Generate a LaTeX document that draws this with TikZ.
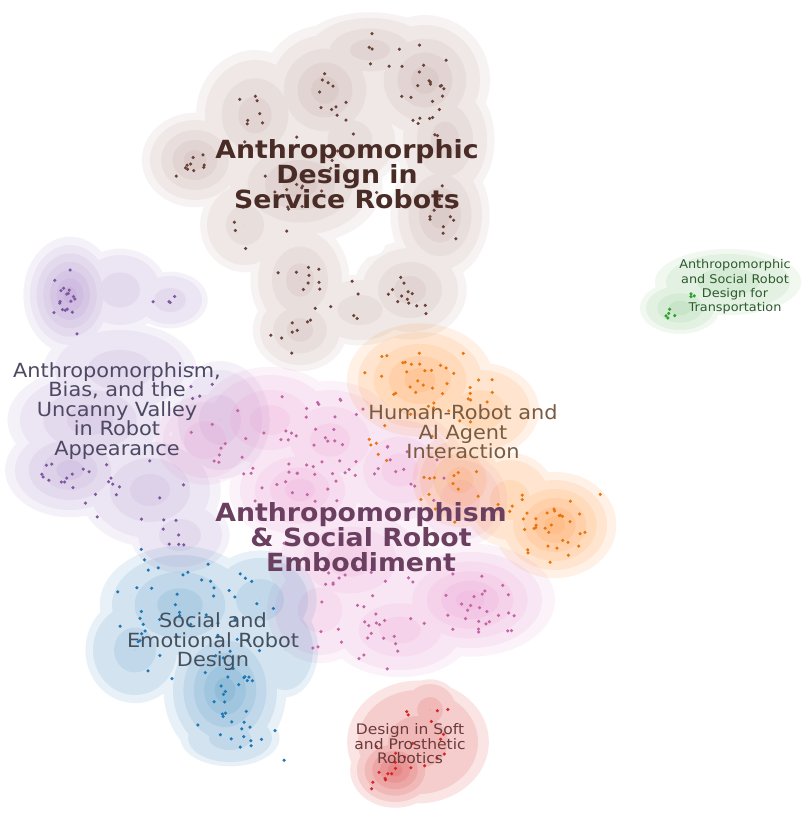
\documentclass[tikz,border=0pt]{standalone}
\usepackage{fontspec}
\newfontfamily\labfont[FakeStretch=1.07]{DejaVu Sans}
\definecolor{cbrown}{HTML}{8C564B}
\definecolor{cpurple}{HTML}{9467BD}
\definecolor{cpink}{HTML}{E377C2}
\definecolor{corange}{HTML}{FF7F0E}
\definecolor{cblue}{HTML}{1F77B4}
\definecolor{cred}{HTML}{D62728}
\definecolor{cgreen}{HTML}{2CA02C}
\definecolor{lbrown}{HTML}{4A2C26}
\definecolor{lplum}{HTML}{6A3F5F}
\definecolor{lpurple}{HTML}{4D4963}
\definecolor{lorange}{HTML}{7A5B40}
\definecolor{lblue}{HTML}{44505F}
\definecolor{lred}{HTML}{6B3A3A}
\definecolor{lgreen}{HTML}{2E5A2E}
% density blob: #1 colour, #2 opacity per level, #3 kernels x/y/rx/ry/weight
\newcommand\kde[3]{%
  \foreach \k in {0,...,6}{%
    \fill[#1, fill opacity=#2] \foreach \x/\y/\a/\b/\w in {#3}{
      (\x,\y) ellipse [x radius={max(0.3,\a*min(1.18,(\w-\k+1)/\w))*1pt}, y radius={max(0.3,\b*min(1.18,(\w-\k+1)/\w))*1pt}]
    };
  }}
% scatter: #1 colour, #2 cx, #3 cy, #4 sx, #5 sy, #6 n
\newcommand\scat[6]{%
  \foreach \i in {1,...,#6}{%
    \pgfmathsetmacro\px{#2+#4*(rand+rand+rand)/1.5}%
    \pgfmathsetmacro\py{#3+#5*(rand+rand+rand)/1.5}%
    \fill[#1] (\px,\py) circle[radius=1.75pt];
  }}
\tikzset{
  lab/.style={align=center, inner sep=0pt, font=\labfont\fontsize{19.5}{19.5}\selectfont},
  biglab/.style={align=center, inner sep=0pt, font=\labfont\bfseries\fontsize{25}{25}\selectfont},
}
\begin{document}
\begin{tikzpicture}[x=1pt,y=-1pt]
\useasboundingbox (0,0) rectangle (804,818);
\fill[white] (0,0) rectangle (804,818);
\pgfmathsetseed{7}
% ---------- densities ----------
\kde{cbrown}{0.068}{195/160/45/40/4, 255/115/50/55/3, 325/90/55/55/4, 370/50/60/32/3, 425/80/55/55/4,
  445/140/42/55/3, 300/185/70/50/4, 350/140/45/40/2, 440/215/42/55/4, 245/225/38/40/2, 300/280/42/50/3,
  300/330/40/35/3, 410/290/48/42/3, 360/310/45/30/2}
\fill[white] (365,245) ellipse[x radius=20pt, y radius=12pt];
\kde{cpurple}{0.085}{70/295/40/50/6, 120/290/40/35/2, 170/300/32/24/2, 120/370/65/40/2, 90/420/70/45/3,
  70/470/55/40/4, 150/490/60/48/3, 180/535/42/32/2, 220/420/42/50/2}
\kde{cpink}{0.09}{205/440/42/38/2, 270/420/60/45/3, 330/440/60/50/3, 300/490/60/45/4, 400/470/55/50/3,
  460/500/40/40/2, 350/560/70/50/3, 470/600/72/48/5, 400/630/62/40/3, 320/610/45/45/2}
\kde{corange}{0.1}{420/380/62/48/4, 480/410/50/40/2, 460/480/40/40/3, 555/525/52/45/5, 510/500/40/40/2}
\kde{cblue}{0.1}{180/605/68/50/3, 135/650/42/45/2, 225/690/52/62/5, 260/600/48/42/2, 230/738/42/24/2, 285/650/28/40/1}
\kde{cred}{0.12}{418/742/60/52/2, 395/770/38/32/5, 430/710/26/26/2}
\kde{cgreen}{0.07}{728/282/62/28/2, 680/308/34/22/3}
% ---------- points ----------
\foreach \cx/\cy/\sx/\sy/\n in {190/160/15/15/10, 260/115/15/20/8, 330/95/12/18/10, 380/50/25/15/8,
  430/75/20/20/14, 420/130/20/25/8, 300/190/35/25/14, 440/215/15/20/12, 300/285/18/20/10,
  295/330/20/15/8, 410/290/15/15/12, 355/300/25/20/6, 240/220/20/20/4, 350/150/40/40/8}
  {\scat{cbrown!75!black}{\cx}{\cy}{\sx}{\sy}{\n}}
\foreach \cx/\cy/\sx/\sy/\n in {70/300/12/25/18, 170/300/15/8/4, 200/385/20/15/5, 60/470/25/15/12,
  130/490/40/25/14, 170/530/20/20/6}
  {\scat{cpurple!85!black}{\cx}{\cy}{\sx}{\sy}{\n}}
\foreach \cx/\cy/\sx/\sy/\n in {240/450/35/20/12, 300/480/40/30/25, 340/420/30/25/10, 370/460/25/20/8,
  420/480/30/30/8, 350/580/50/30/20, 480/605/40/25/25, 400/630/40/25/15, 330/640/30/20/8, 280/420/50/25/10}
  {\scat{cpink!85!black}{\cx}{\cy}{\sx}{\sy}{\n}}
\foreach \cx/\cy/\sx/\sy/\n in {420/375/40/25/30, 480/400/30/20/10, 455/480/25/25/14, 555/525/30/25/30,
  510/500/25/15/8, 380/440/15/20/6}
  {\scat{corange!92!black}{\cx}{\cy}{\sx}{\sy}{\n}}
\foreach \cx/\cy/\sx/\sy/\n in {180/600/50/30/25, 140/660/25/25/8, 230/690/25/45/30, 255/600/30/30/10, 250/740/30/15/10}
  {\scat{cblue}{\cx}{\cy}{\sx}{\sy}{\n}}
\foreach \cx/\cy/\sx/\sy/\n in {390/770/20/20/14, 425/720/15/15/6, 440/760/15/15/4}
  {\scat{cred}{\cx}{\cy}{\sx}{\sy}{\n}}
\scat{cgreen}{668}{315}{5}{4}{5}
\scat{cgreen}{695}{298}{8}{5}{3}
% ---------- labels ----------
\node[biglab, text=lbrown] (service) at (347,174) {Anthropomorphic\\Design in\\Service Robots};
\node[biglab, text=lplum] (embod) at (361,537) {Anthropomorphism\\\& Social Robot\\Embodiment};
\node[lab, text=lpurple] (bias) at (117,411) {Anthropomorphism,\\Bias, and the\\Uncanny Valley\\in Robot\\Appearance};
\node[lab, text=lorange] (hri) at (463,432) {Human-Robot and\\AI Agent\\Interaction};
\node[lab, text=lblue] (social) at (213,642) {Social and\\Emotional Robot\\Design};
\node[align=center, inner sep=0pt, font=\labfont\fontsize{14.5}{14}\selectfont, text=lred] (soft) at (410,744) {Design in Soft\\and Prosthetic\\Robotics};
\node[align=center, inner sep=0pt, font=\labfont\fontsize{12}{14.3}\selectfont, text=lgreen] (transp) at (735,287) {Anthropomorphic\\and Social Robot\\Design for\\Transportation};
\end{tikzpicture}
\end{document}
